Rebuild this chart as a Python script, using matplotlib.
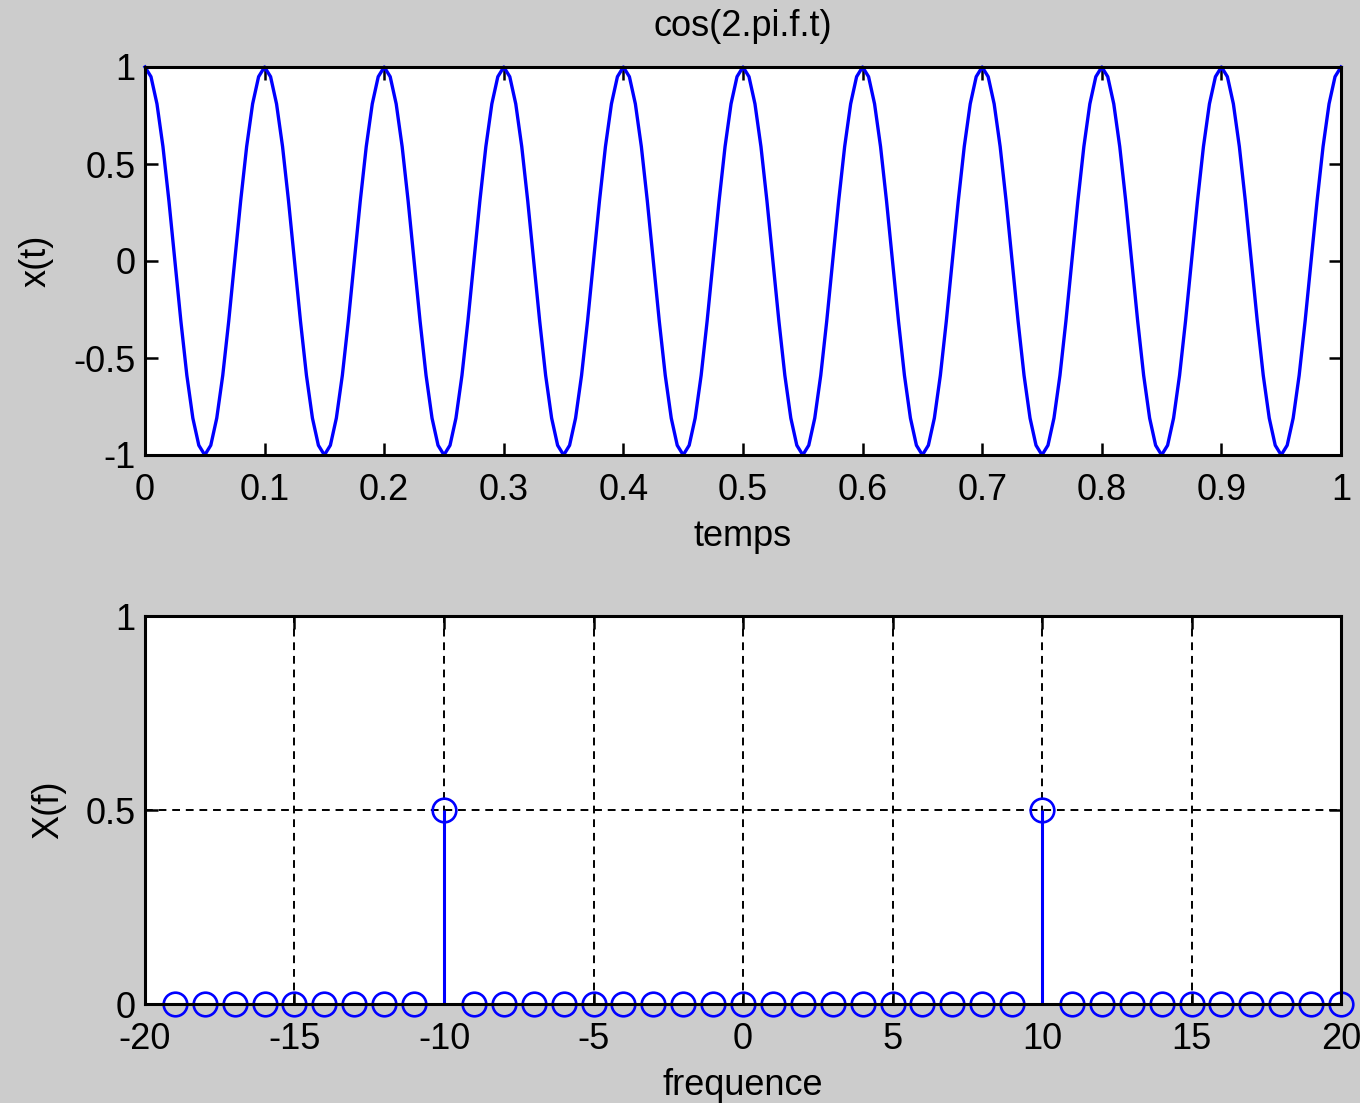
import numpy as np
import matplotlib
matplotlib.use("Agg")
import matplotlib.pyplot as plt

# ---- data ----
# one period of the time signal (20 samples per period of 0.1 s), repeated 10 times
period_values = [1.00, 0.95, 0.81, 0.59, 0.31, 0.00, -0.31, -0.59, -0.81, -0.95,
                 -1.00, -0.95, -0.81, -0.59, -0.31, 0.00, 0.31, 0.59, 0.81, 0.95]
n_periods = 10
signal = list(np.tile(period_values, n_periods)) + [1.00]
time = np.linspace(0.0, 1.0, len(signal))

freq = list(range(-19, 21))
spectrum = [0, 0, 0, 0, 0, 0, 0, 0, 0, 0.5,
            0, 0, 0, 0, 0, 0, 0, 0, 0, 0,
            0, 0, 0, 0, 0, 0, 0, 0, 0, 0.5,
            0, 0, 0, 0, 0, 0, 0, 0, 0, 0]

top_xticks = [0, 0.1, 0.2, 0.3, 0.4, 0.5, 0.6, 0.7, 0.8, 0.9, 1]
top_xlabels = ["0", "0.1", "0.2", "0.3", "0.4", "0.5", "0.6", "0.7", "0.8", "0.9", "1"]
top_yticks = [-1, -0.5, 0, 0.5, 1]
top_ylabels = ["-1", "-0.5", "0", "0.5", "1"]
bot_xticks = [-20, -15, -10, -5, 0, 5, 10, 15, 20]
bot_xlabels = ["-20", "-15", "-10", "-5", "0", "5", "10", "15", "20"]
bot_yticks = [0, 0.5, 1]
bot_ylabels = ["0", "0.5", "1"]

# ---- style ----
plt.rcParams['font.family'] = ['Liberation Sans', 'DejaVu Sans']
FS = 26
BG = '#cccccc'
BLUE = '#0000ff'

fig = plt.figure(figsize=(13.6, 11.03), dpi=100, facecolor=BG)
W, H = 1360, 1103
ax1 = fig.add_axes([145 / W, 1 - 455 / H, (1341 - 145) / W, (455 - 67) / H])
ax2 = fig.add_axes([145 / W, 1 - 1004 / H, (1341 - 145) / W, (1004 - 616) / H])

for ax in (ax1, ax2):
    ax.set_facecolor('white')
    for s in ax.spines.values():
        s.set_linewidth(2.2)
        s.set_color('black')
    ax.tick_params(direction='in', length=9, width=1.8, top=True, right=True,
                   labelsize=FS, colors='black', pad=7)
    ax.tick_params(axis='x', pad=13)

# top: time signal
ax1.plot(time, signal, color=BLUE, linewidth=2.4, clip_on=False)
ax1.set_xlim(0, 1)
ax1.set_ylim(-1, 1)
ax1.set_xticks(top_xticks, top_xlabels)
ax1.set_yticks(top_yticks, top_ylabels)
ax1.set_title('cos(2.pi.f.t)', fontsize=FS, pad=22)
ax1.set_xlabel('temps', fontsize=FS, labelpad=8)
ax1.set_ylabel('x(t)', fontsize=FS, labelpad=14)

# bottom: spectrum
markerline, stemlines, baseline = ax2.stem(freq, spectrum, linefmt='-', markerfmt='o', basefmt=' ')
plt.setp(stemlines, color=BLUE, linewidth=2.2)
plt.setp(markerline, color=BLUE, markerfacecolor='none', markeredgecolor=BLUE,
         markersize=17, markeredgewidth=1.9, clip_on=False)
baseline.set_visible(False)
ax2.set_xlim(-20, 20)
ax2.set_ylim(0, 1)
ax2.set_xticks(bot_xticks, bot_xlabels)
ax2.set_yticks(bot_yticks, bot_ylabels)
ax2.grid(True, color='black', linestyle=(0, (4, 3)), linewidth=1.4)
ax2.set_xlabel('frequence', fontsize=FS, labelpad=8)
ax2.set_ylabel('X(f)', fontsize=FS, labelpad=14)

fig.savefig('out.png', dpi=100, facecolor=BG)
